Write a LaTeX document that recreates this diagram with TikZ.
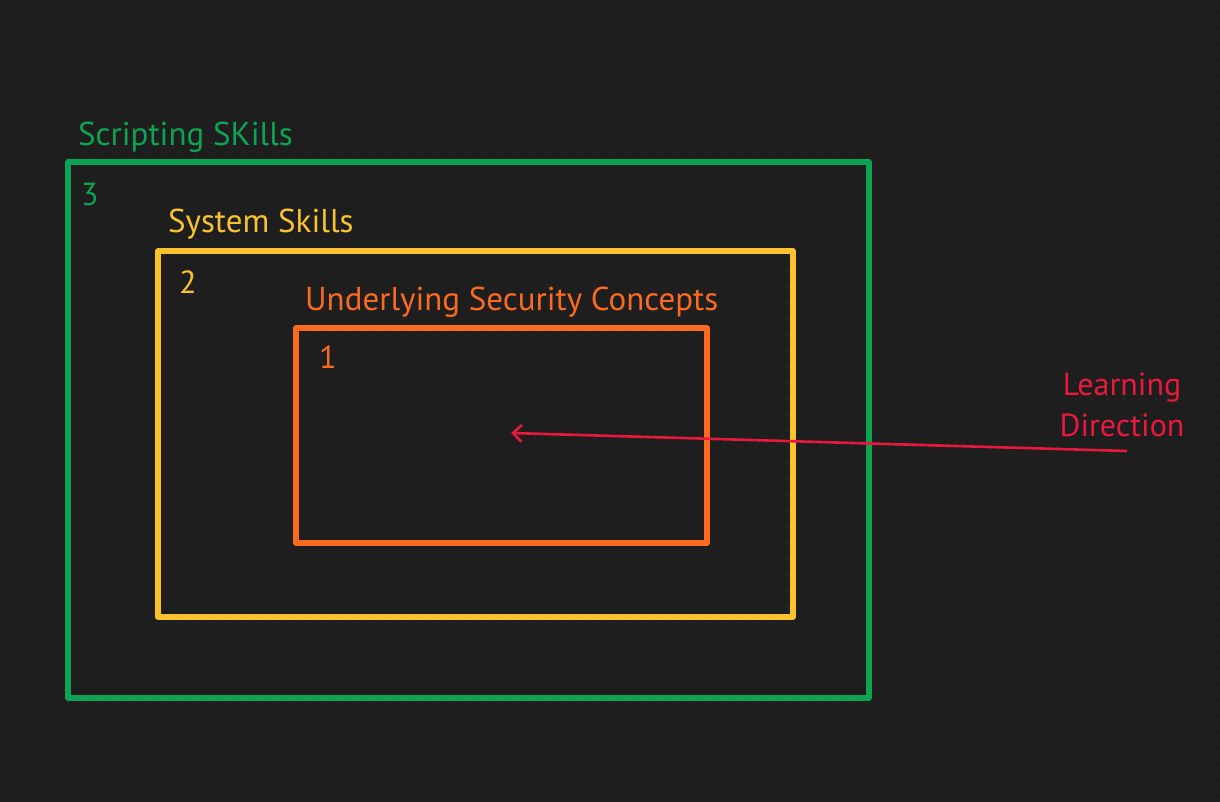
\documentclass[tikz,border=0pt]{standalone}
\usepackage{fontspec}
\setmainfont{PT Sans}
\usetikzlibrary{arrows.meta}
\definecolor{bg}{HTML}{1E1E1E}
\definecolor{dotc}{HTML}{272727}
\definecolor{cgreen}{HTML}{0EA352}
\definecolor{cyellow}{HTML}{F9C22E}
\definecolor{corange}{HTML}{FB6A21}
\definecolor{cred}{HTML}{E8193C}
\tikzset{
  box/.style={draw=#1, line width=5.5pt, line join=round},
  lbl/.style={text=#1, anchor=base west, inner sep=0pt, font=\fontsize{33}{38}\selectfont},
  num/.style={text=#1, anchor=base west, inner sep=0pt, font=\fontsize{32}{36}\selectfont},
}
\begin{document}
\begin{tikzpicture}[x=1pt,y=-1pt]
\fill[bg] (0,0) rectangle (1220,802);
\useasboundingbox (0,0) rectangle (1220,802);
\foreach \i in {0,...,76} {\foreach \j in {0,...,49} {\fill[dotc] (4+16*\i,15+16*\j) circle (1.3pt);}}
% rectangles
\draw[box=cgreen] (68,162) rectangle (869,698);
\draw[box=cyellow] (158,251) rectangle (793,617);
\draw[box=corange] (296,328) rectangle (707,543);
% labels
\node[lbl=cgreen] (t3) at (78,146) {Scripting SKills};
\node[num=cgreen] (n3) at (81,206) {3};
\node[lbl=cyellow] (t2) at (168,233) {System Skills};
\node[num=cyellow] (n2) at (179,294) {2};
\node[lbl=corange] (t1) at (305,310) {Underlying Security Concepts};
\node[num=corange] (n1) at (319,368) {1};
% arrow
\coordinate (astart) at (1127,451);
\coordinate (aend) at (511,433);
\draw[cred, line width=2.6pt, -{Straight Barb[length=9pt,width=17pt,line width=2.6pt]}] (astart) -- (aend);
\node[text=cred, align=center, inner sep=0pt, anchor=base, font=\fontsize{32}{41}\selectfont] (ld) at (1122,436) {Learning\\Direction};
\end{tikzpicture}
\end{document}
